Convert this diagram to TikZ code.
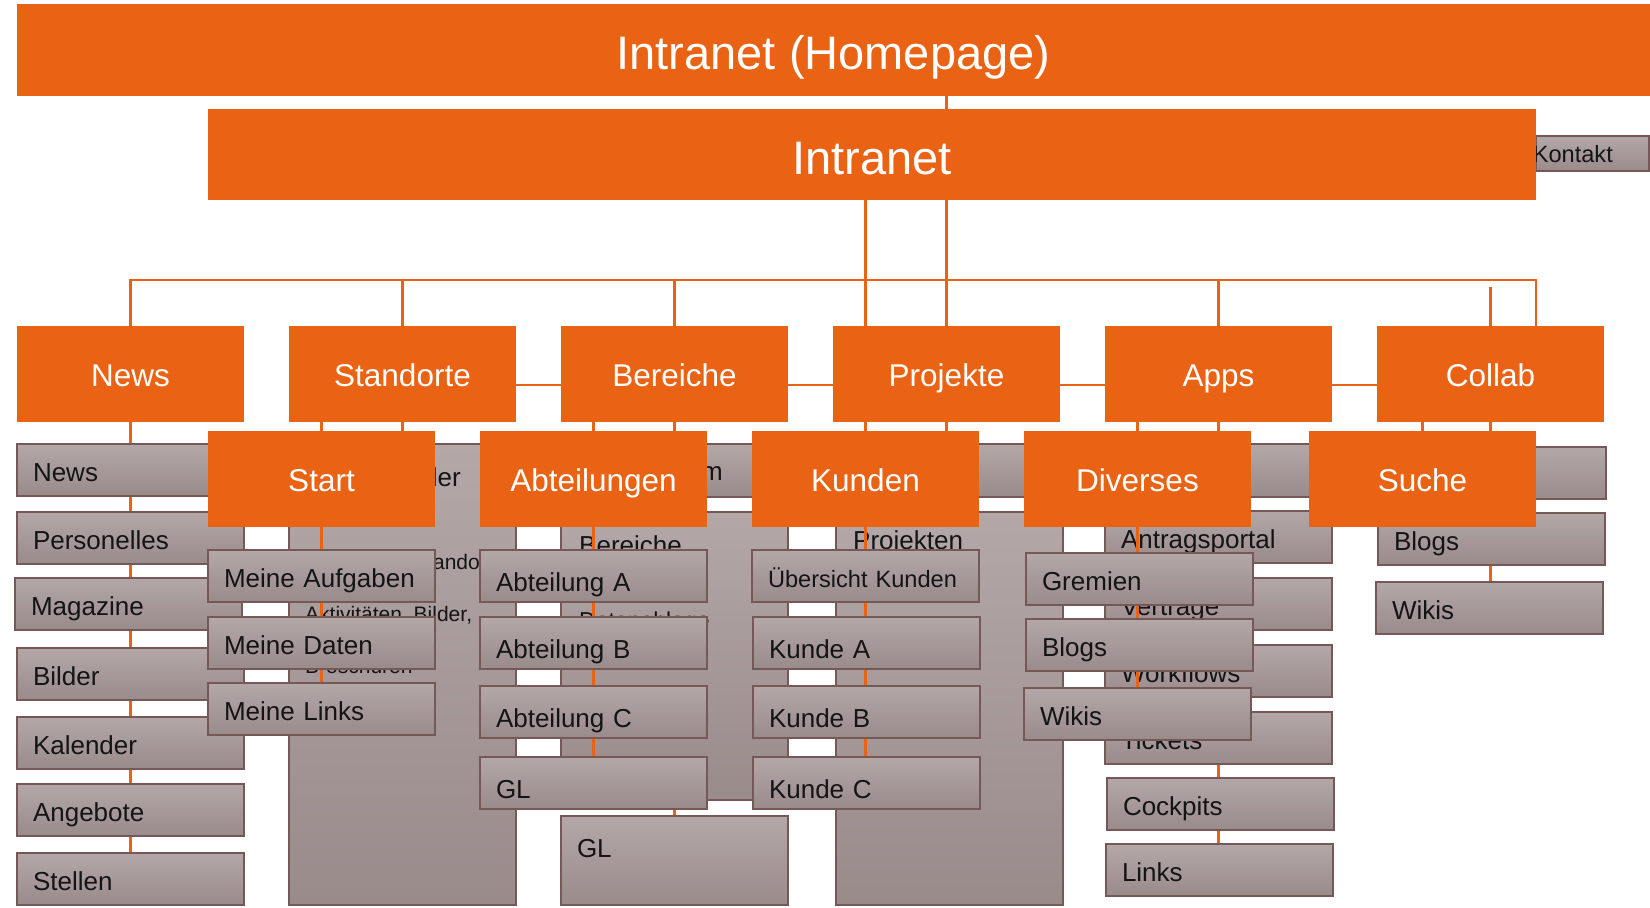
\documentclass[tikz,border=0pt]{standalone}
\usepackage{fontspec}
\setmainfont{Liberation Sans}
\usetikzlibrary{backgrounds}
\definecolor{intraorange}{RGB}{234,99,21}
\definecolor{leaftop}{RGB}{179,167,167}
\definecolor{leafbottom}{RGB}{154,139,139}
\definecolor{leafedge}{RGB}{118,88,88}
\pgfdeclarelayer{alines}
\pgfdeclarelayer{aleaves}
\pgfdeclarelayer{blines}
\pgfsetlayers{alines,aleaves,blines,main}
\tikzset{
  treenode/.style = {inner sep=0pt, outer sep=0pt, anchor=north west},
  head/.style = {treenode, fill=intraorange, text=white,
    font=\fontsize{31.5}{36}\selectfont, minimum width=227pt,
    minimum height=96pt, text height=24.5pt, text depth=0pt},% orange Kaestchen
  root/.style = {head, font=\fontsize{47}{54}\selectfont, text height=39pt},% Balken oben
  panel/.style = {treenode, top color=leaftop, bottom color=leafbottom,
    draw=leafedge, line width=1.3pt, minimum width=227pt},% graues Kaestchen
  leaf/.style = {panel, font=\fontsize{26}{30}\selectfont, text=black!92,
    inner xsep=16pt, text width=195pt, align=left, minimum height=52pt,
    text height=24pt, text depth=1.4pt},
  lowleaf/.style = {leaf, text height=33pt},% Text etwas tiefer
  cuttext/.style = {anchor=base east, inner sep=0pt, text=black!92},% halb verdeckter Text
  lefttext/.style = {cuttext, anchor=base west},
  link/.style = {draw=intraorange, line width=2.4pt},
}
\begin{document}
\begin{tikzpicture}[x=1pt, y=-1pt]
\useasboundingbox (0,0) rectangle (1650,908);

% Intranet (Homepage)
\node[root, minimum width=1633pt, minimum height=92pt] (home) at (17,4) {Intranet (Homepage)};
\node[head] (news) at (17,326) {News};
\node[head] (standorte) at (289,326) {Standorte};
\node[head] (bereiche) at (561,326) {Bereiche};
\node[head] (projekte) at (833,326) {Projekte};
\node[head] (apps) at (1105,326) {Apps};
\node[head] (collab) at (1377,326) {Collab};

\begin{pgfonlayer}{aleaves}
\node[panel, minimum width=113pt, minimum height=35pt] (kontakt) at (1536,136) {};
\node[cuttext, font=\fontsize{23.6}{28}\selectfont] (kontakttext) at (1613,162) {Kontakt};
\node[leaf] (anews) at (17,444) {News};
\node[leaf] (apers) at (17,512) {Personelles};
\node[leaf] (amag) at (15,578) {Magazine};
\node[leaf] (abild) at (17,648) {Bilder};
\node[leaf] (akal) at (17,717) {Kalender};
\node[leaf] (aang) at (17,784) {Angebote};
\node[leaf] (astell) at (17,853) {Stellen};
\node[panel, minimum height=461pt] (astandorte) at (289,444) {};
\node[cuttext, font=\fontsize{26}{30}\selectfont] (aordner) at (461,486) {ler};
\node[cuttext, font=\fontsize{21}{25}\selectfont] (akommando) at (480,569) {ando};
\node[lefttext, font=\fontsize{21}{25}\selectfont] (aaktiv) at (305,621) {Aktivitäten, Bilder,};
\node[lefttext, font=\fontsize{21}{25}\selectfont] (abrosch) at (305,673) {Broschüren};
\node[panel, minimum height=53pt] (abertop) at (561,444) {};
\node[cuttext, font=\fontsize{26}{30}\selectfont] (aforum) at (723,480) {m};
\node[panel, minimum height=288pt] (aberbox) at (561,512) {};
\node[lefttext, font=\fontsize{26}{30}\selectfont] (abertext) at (579,554) {Bereiche};
\node[lefttext, font=\fontsize{23}{28}\selectfont] (aablage) at (579,628) {Datenablage};
\node[leaf, minimum height=89pt, text depth=31pt] (agl) at (561,816) {GL};
\node[panel, minimum height=53pt] (aprotop) at (833,444) {};
\node[panel, minimum height=393pt] (aprobox) at (836,512) {};
\node[lefttext, font=\fontsize{26}{30}\selectfont] (aprotext) at (853,549) {Projekten};
\node[panel, minimum height=53pt] (aapptop) at (1105,444) {};
\node[leaf] (aantrag) at (1105,511) {Antragsportal};
\node[leaf] (avertr) at (1105,578) {Verträge};
\node[leaf] (aworkf) at (1105,645) {Workflows};
\node[leaf] (atick) at (1105,712) {Tickets};
\node[leaf] (acock) at (1107,778) {Cockpits};
\node[leaf] (alinks) at (1106,844) {Links};
\node[panel, minimum width=229pt, minimum height=52pt] (acoltop) at (1377,447) {};
\node[leaf] (ablogs) at (1378,513) {Blogs};
\node[leaf] (awikis) at (1376,582) {Wikis};
\end{pgfonlayer}

% Intranet
\node[root, minimum width=1328pt, minimum height=91pt] (intranet) at (208,109) {Intranet};
\node[head] (start) at (208,431) {Start};
\node[head] (abteilungen) at (480,431) {Abteilungen};
\node[head] (kunden) at (752,431) {Kunden};
\node[head] (diverses) at (1024,431) {Diverses};
\node[head] (suche) at (1309,431) {Suche};
\node[leaf] (aufgaben) at (208,550) {Meine Aufgaben};
\node[leaf] (daten) at (208,617) {Meine Daten};
\node[leaf] (mlinks) at (208,683) {Meine Links};
\node[lowleaf] (abta) at (480,550) {Abteilung A};
\node[lowleaf] (abtb) at (480,617) {Abteilung B};
\node[lowleaf] (abtc) at (480,686) {Abteilung C};
\node[lowleaf] (gl) at (480,757) {GL};
\node[leaf, font=\fontsize{23.6}{28}\selectfont] (uebersicht) at (752,550) {Übersicht Kunden};
\node[lowleaf] (kundea) at (753,617) {Kunde A};
\node[lowleaf] (kundeb) at (753,686) {Kunde B};
\node[lowleaf] (kundec) at (753,757) {Kunde C};
\node[leaf] (gremien) at (1026,553) {Gremien};
\node[leaf] (blogs) at (1026,619) {Blogs};
\node[leaf] (wikis) at (1024,688) {Wikis};

\begin{pgfonlayer}{alines}
\coordinate (abar) at (0,280);
\draw[link] (home.south -| projekte.north) -- (projekte.north);
\draw[link] (news.north) |- (abar -| intranet.east) -- (intranet.east |- collab.north);
\foreach \n in {standorte, bereiche, apps}
  \draw[link] (\n.north) -- (\n.north |- abar);
\draw[link] (collab.north) -- ++(0,-39);
\draw[link] (news.south) -- (news.south |- astell.north);
\draw[link] (standorte.south) -- (standorte.south |- astandorte.north);
\draw[link] (bereiche.south) -- (bereiche.south |- agl.north);
\draw[link] (projekte.south) -- (projekte.south |- aprobox.north);
\draw[link] (apps.south) -- (apps.south |- alinks.north);
\draw[link] (collab.south) -- (collab.south |- awikis.north);
\end{pgfonlayer}

\begin{pgfonlayer}{blines}
\coordinate (bbar) at (0,385);
\draw[link] (intranet.south -| kunden.north) -- (kunden.north);
\draw[link] (start.north) |- (bbar -| suche.north) -- (suche.north);
\foreach \n in {abteilungen, diverses}
  \draw[link] (\n.north) -- (\n.north |- bbar);
\draw[link] (start.south) -- (start.south |- mlinks.north);
\draw[link] (abteilungen.south) -- (abteilungen.south |- gl.north);
\draw[link] (kunden.south) -- (kunden.south |- kundec.north);
\draw[link] (diverses.south) -- (diverses.south |- wikis.north);
\end{pgfonlayer}
\end{tikzpicture}
\end{document}
